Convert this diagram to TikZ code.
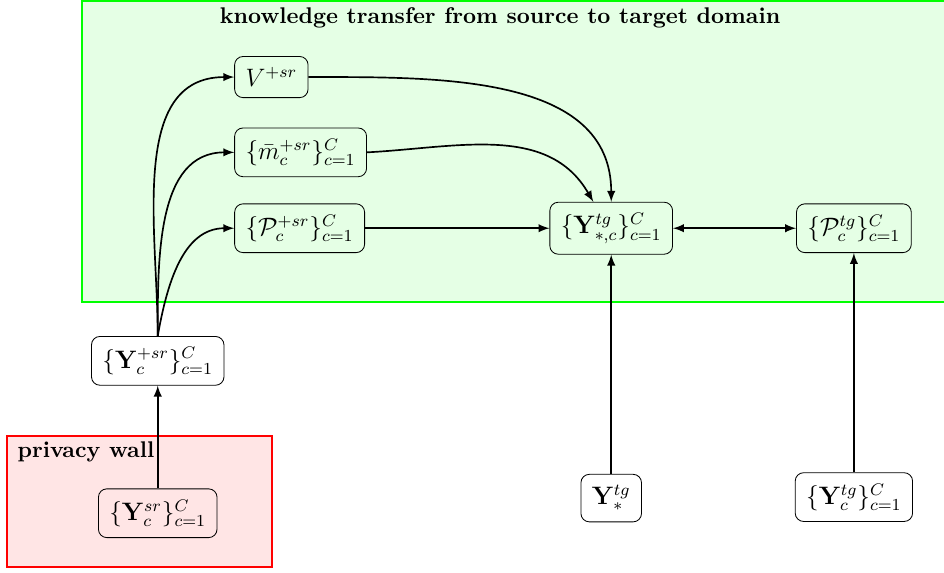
\documentclass[tikz,border=0pt]{standalone}
\usepackage{amsmath,amssymb}
\usetikzlibrary{arrows,positioning}

\begin{document}
\begin{tikzpicture}[node distance=2cm and 2cm]
    \tikzset{box/.style={rectangle, draw, rounded corners=4pt, align=center, inner sep=5.2pt, font=\fontsize{11.8}{14}\selectfont}}
    \tikzset{label/.style={font=\fontsize{10.8}{13}\selectfont\bfseries}}
    \tikzset{arrow/.style={-latex, thick}}
    \useasboundingbox (0,0) rectangle (15.80,9.59);

    % Regions
    \draw[green, fill=green!10, line width=0.8pt] (1.37,4.54) rectangle (15.9,9.57);
    \draw[red, fill=red!10, line width=0.8pt] (0.12,0.10) rectangle (4.55,2.29);
    \node[label] (transfer) at (8.37,9.29) {knowledge transfer from source to target domain};
    \node[label, anchor=west] (wall) at (0.17,2.03) {privacy wall};

    % Target side
    \node[box] (ystc) at (10.23,5.77) {$\{\mathbf{Y}^{tg}_{*,c}\}_{c=1}^{C}$};
    \node[box, right=2.06cm of ystc] (ptg) {$\{\mathcal{P}^{tg}_{c}\}_{c=1}^{C}$};
    \node[box, below=3.67cm of ystc] (yst) {$\mathbf{Y}^{tg}_{*}$};
    \node[box, below=3.67cm of ptg] (ytgc) {$\{\mathbf{Y}^{tg}_{c}\}_{c=1}^{C}$};

    % Source side
    \node[box, anchor=west] (psr) at (3.92,5.77) {$\{\mathcal{P}^{+sr}_{c}\}_{c=1}^{C}$};
    \node[box, anchor=west] (msr) at (3.92,7.04) {$\{\bar{m}^{+sr}_{c}\}_{c=1}^{C}$};
    \node[box, anchor=west] (vsr) at (3.92,8.30) {$V^{+sr}$};
    \node[box] (ypsr) at (2.64,3.55) {$\{\mathbf{Y}^{+sr}_{c}\}_{c=1}^{C}$};
    \node[box, below=1.72cm of ypsr] (ysr) {$\{\mathbf{Y}^{sr}_{c}\}_{c=1}^{C}$};

    % Arrows
    \draw[arrow] (ysr) -- (ypsr);
    \draw[arrow] (ypsr.north) to[out=90, in=180] (vsr.west);
    \draw[arrow] (ypsr.north) to[out=90, in=180] (msr.west);
    \draw[arrow] (ypsr.north) to[out=80, in=180] (psr.west);
    \draw[arrow] (vsr.east) to[out=0, in=90] (ystc.north);
    \draw[arrow] (msr.east) to[out=3, in=120] ([xshift=-0.3cm]ystc.north);
    \draw[arrow] (psr) -- (ystc);
    \draw[latex-latex, thick] (ystc) -- (ptg);
    \draw[arrow] (yst) -- (ystc);
    \draw[arrow] (ytgc) -- (ptg);
\end{tikzpicture}
\end{document}
